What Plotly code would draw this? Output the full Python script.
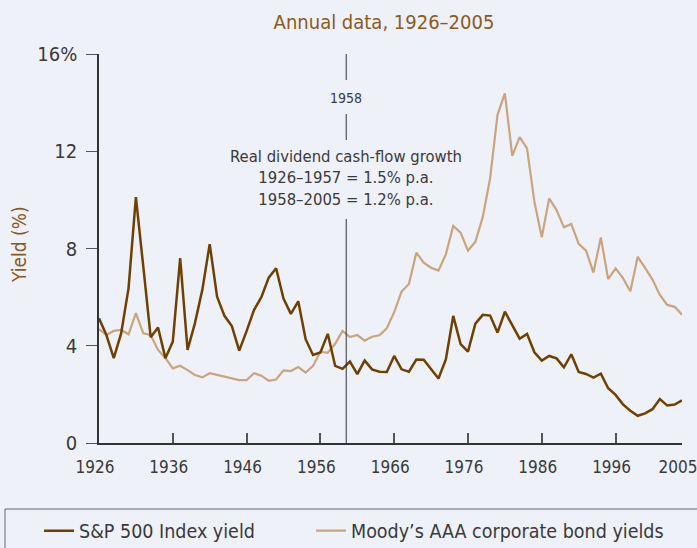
import plotly.graph_objects as go

years = list(range(1926, 2006))

sp500_yield = [
    5.13, 4.44, 3.49, 4.51, 6.36, 10.11, 7.26, 4.35, 4.75, 3.49,   # 1926-1935
    4.17, 7.60, 3.83, 4.93, 6.30, 8.18, 6.02, 5.23, 4.81, 3.80,    # 1936-1945
    4.60, 5.47, 6.00, 6.80, 7.19, 5.94, 5.31, 5.83, 4.27, 3.62,    # 1946-1955
    3.72, 4.49, 3.17, 3.05, 3.35, 2.83, 3.39, 3.03, 2.93, 2.92,    # 1956-1965
    3.58, 3.03, 2.93, 3.43, 3.42, 3.04, 2.65, 3.44, 5.23, 4.07,    # 1966-1975
    3.76, 4.91, 5.27, 5.24, 4.54, 5.40, 4.86, 4.29, 4.49, 3.73,    # 1976-1985
    3.39, 3.58, 3.48, 3.11, 3.65, 2.92, 2.84, 2.69, 2.85, 2.25,    # 1986-1995
    1.98, 1.59, 1.33, 1.12, 1.22, 1.39, 1.81, 1.54, 1.58, 1.76,    # 1996-2005
]

moodys_aaa = [
    4.68, 4.44, 4.61, 4.65, 4.47, 5.34, 4.51, 4.44, 3.83, 3.49,    # 1926-1935
    3.07, 3.18, 3.00, 2.80, 2.70, 2.87, 2.80, 2.73, 2.69, 2.59,    # 1936-1945
    2.59, 2.87, 2.77, 2.56, 2.61, 2.99, 2.96, 3.12, 2.90, 3.17,    # 1946-1955
    3.76, 3.71, 4.08, 4.61, 4.36, 4.44, 4.21, 4.37, 4.43, 4.72,    # 1956-1965
    5.38, 6.23, 6.54, 7.83, 7.42, 7.21, 7.09, 7.76, 8.93, 8.65,    # 1966-1975
    7.91, 8.28, 9.29, 10.89, 13.50, 14.38, 11.81, 12.58, 12.12, 9.92,  # 1976-1985
    8.46, 10.06, 9.58, 8.87, 9.01, 8.19, 7.91, 7.01, 8.45, 6.74,   # 1986-1995
    7.18, 6.78, 6.24, 7.66, 7.20, 6.72, 6.09, 5.68, 5.60, 5.28,    # 1996-2005
]

x_tick_vals = [1926, 1936, 1946, 1956, 1966, 1976, 1986, 1996, 2005]
x_tick_text = ["1926", "1936", "1946", "1956", "1966", "1976", "1986", "1996", "2005"]
y_tick_vals = [0, 4, 8, 12, 16]
y_tick_text = ["0", "4", "8", "12", "16%"]

split_year = 1959.5
title_text = "Annual data, 1926–2005"
y_title_text = "Yield (%)"
note_text = "Real dividend cash-flow growth<br>1926–1957 = 1.5% p.a.<br>1958–2005 = 1.2% p.a."

FONT = "Liberation Sans Narrow, DejaVu Sans Condensed, Arial Narrow, Roboto, sans-serif"
BG = "#EEF1F8"
DARK = "#6E4103"
LIGHT = "#C9A57F"
BROWN_TXT = "#8B5A1E"
GREY = "#3A3A3A"

fig = go.Figure()
fig.add_trace(go.Scatter(
    x=years, y=moodys_aaa, mode="lines", name="Moody’s AAA corporate bond yields",
    line=dict(color=LIGHT, width=2.2), legend="legend2",
))
fig.add_trace(go.Scatter(
    x=years, y=sp500_yield, mode="lines", name="S&P 500 Index yield",
    line=dict(color=DARK, width=2.5), legend="legend",
))

W, H = 697, 548
ml, mr, mt, mb = 99, 15, 54, 105
pw = W - ml - mr
ph = H - mt - mb


def px_x(px):
    return (px - ml) / pw


def px_y(py):
    return (H - mb - py) / ph


fig.update_layout(
    width=W, height=H,
    margin=dict(l=ml, r=mr, t=mt, b=mb, pad=0, autoexpand=False),
    paper_bgcolor=BG, plot_bgcolor=BG,
    font=dict(family=FONT, color=GREY, size=19),
    title=dict(text=title_text, x=384 / W, xref="container", xanchor="center",
               y=1 - 22 / H, yref="container", yanchor="middle",
               font=dict(family=FONT, size=20, color=BROWN_TXT)),
    xaxis=dict(range=[1926, 2005], tickvals=x_tick_vals, ticktext=x_tick_text,
               ticks="inside", ticklen=10,
               tickcolor="#555555", tickwidth=1.5, showline=True, linecolor="#333333",
               linewidth=1.5, showgrid=False, zeroline=False, automargin=False,
               ticklabeloverflow="allow", ticklabelshift=-4,
               tickfont=dict(size=17, color=GREY), ticklabelstandoff=8),
    yaxis=dict(range=[0, 16], tickvals=y_tick_vals, ticktext=y_tick_text, ticks="outside",
               ticklen=11, tickcolor="#555555", tickwidth=1, showline=True,
               linecolor="#333333", linewidth=1.5, showgrid=False, zeroline=False,
               automargin=False, ticklabeloverflow="allow",
               tickfont=dict(size=20, color=GREY), ticklabelstandoff=5),
    legend=dict(x=39 / W, y=1 - 531 / H, xref="container", yref="container",
                xanchor="left", yanchor="middle",
                orientation="h", bgcolor="rgba(0,0,0,0)", borderwidth=0,
                font=dict(size=19.5, color=GREY)),
    legend2=dict(x=311 / W, y=1 - 531 / H, xref="container", yref="container",
                 xanchor="left", yanchor="middle",
                 orientation="h", bgcolor="rgba(0,0,0,0)", borderwidth=0,
                 font=dict(size=19.5, color=GREY)),
    showlegend=True,
)

# y-axis title
fig.add_annotation(x=px_x(19), y=px_y(245), xref="paper", yref="paper",
                   text=y_title_text, textangle=-90, showarrow=False,
                   font=dict(size=19, color=BROWN_TXT),
                   xanchor="center", yanchor="middle")

# legend frame
fig.add_shape(type="rect", xref="paper", yref="paper",
              x0=px_x(5), x1=px_x(705), y0=px_y(560), y1=px_y(509),
              line=dict(color="#666666", width=1), fillcolor="rgba(0,0,0,0)", layer="above")

# split line in segments around the labels
for y0, y1 in [(0, px_y(219)), (px_y(140), px_y(114)), (px_y(80), 1.0)]:
    fig.add_shape(type="line", xref="x", yref="paper", x0=split_year, x1=split_year,
                  y0=y0, y1=y1, line=dict(color="#333333", width=1))

fig.add_annotation(x=split_year, y=px_y(98), xref="x", yref="paper", text="1958",
                   showarrow=False, font=dict(size=14, color=GREY),
                   xanchor="center", yanchor="middle")
fig.add_annotation(x=split_year, y=px_y(178), xref="x", yref="paper", text=note_text,
                   showarrow=False, font=dict(size=16.5, color=GREY),
                   xanchor="center", yanchor="middle", align="center")

fig.write_html(
    "out.html",
    config={"displayModeBar": False},
    post_script="document.body.style.margin='0';document.body.style.background='%s';" % BG,
)
